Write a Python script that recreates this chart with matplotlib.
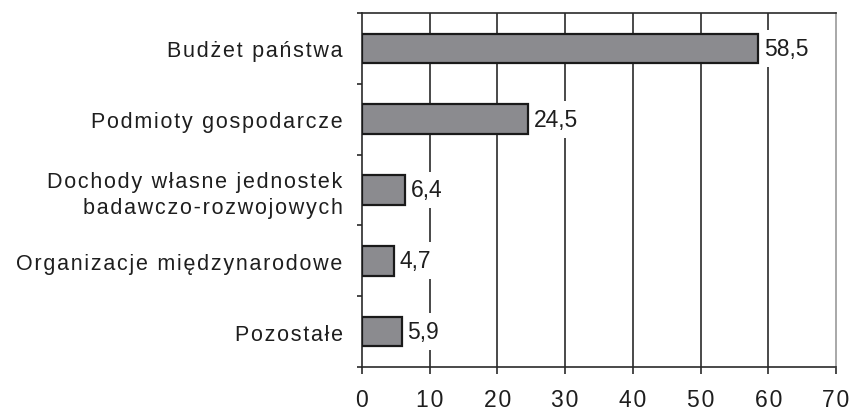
"""
Horizontal bar chart: sources of R&D funding (%).
"""

import numpy as np
import matplotlib
matplotlib.use('Agg')
import matplotlib.pyplot as plt

categories = ['Budżet państwa',
              'Podmioty gospodarcze',
              'Dochody własne jednostek\nbadawczo-rozwojowych',
              'Organizacje międzynarodowe',
              'Pozostałe']
values = [58.5, 24.5, 6.4, 4.7, 5.9]
value_labels = ['58,5', '24,5', '6,4', '4,7', '5,9']
x_ticks = [0, 10, 20, 30, 40, 50, 60, 70]

plt.rcParams['font.family'] = ['Liberation Sans', 'DejaVu Sans']
plt.rcParams['text.color'] = '#1e1e1e'
plt.rcParams['xtick.color'] = '#1e1e1e'
plt.rcParams['ytick.color'] = '#1e1e1e'


def spaced(s):
    """
    Mimic the loose letter spacing of the original with hair spaces.
    """
    return '\n'.join('\u200a'.join(line) for line in s.split('\n'))


###

fig = plt.figure(figsize=(8.51, 4.14), dpi=100)
W, H = 851, 414
ax = fig.add_axes([362 / W, 1 - 368 / H, (836 - 362) / W, (368 - 14) / H])

pos = np.arange(len(categories))
ax.barh(pos, values, height=0.42, color='#8b8b8f', edgecolor='#1a1a1a',
        linewidth=1.6, zorder=3)

# inner grid lines (the outer ones are the spines)
ax.vlines(x_ticks[1:-1], 0, 1, transform=ax.get_xaxis_transform(),
          colors='#2a2a2a', linewidth=1.2, zorder=1)

for p, v, lab in zip(pos, values, value_labels):
    ax.annotate(lab, (v, p), xytext=(4, 0), textcoords='offset points',
                ha='left', va='center', fontsize=16.5, zorder=2.5,
                bbox=dict(boxstyle='square,pad=0.3', fc='white', ec='none'))

ax.set_xlim(x_ticks[0], x_ticks[-1])
ax.set_ylim(len(categories) - 0.5, -0.5)

ax.set_xticks(x_ticks, labels=[spaced(str(t)) for t in x_ticks])
ax.tick_params(axis='x', direction='out', length=5, width=1.2, pad=10,
               labelsize=16.5, color='#2a2a2a')

ax.set_yticks(pos, labels=[spaced(c) for c in categories])
ax.set_yticks(np.arange(len(categories) + 1) - 0.5, minor=True)
ax.tick_params(axis='y', which='major', length=0, pad=14, labelsize=15.5)
ax.tick_params(axis='y', which='minor', direction='out', length=3.6,
               width=1.2, color='#2a2a2a')
for t in ax.get_yticklabels():
    t.set_linespacing(1.3)

for side in ['left', 'bottom', 'top']:
    ax.spines[side].set_color('#2a2a2a')
    ax.spines[side].set_linewidth(1.2)
ax.spines['right'].set_color('#a8a8a8')
ax.spines['right'].set_linewidth(1.4)

plt.savefig('out.png', dpi=100)
